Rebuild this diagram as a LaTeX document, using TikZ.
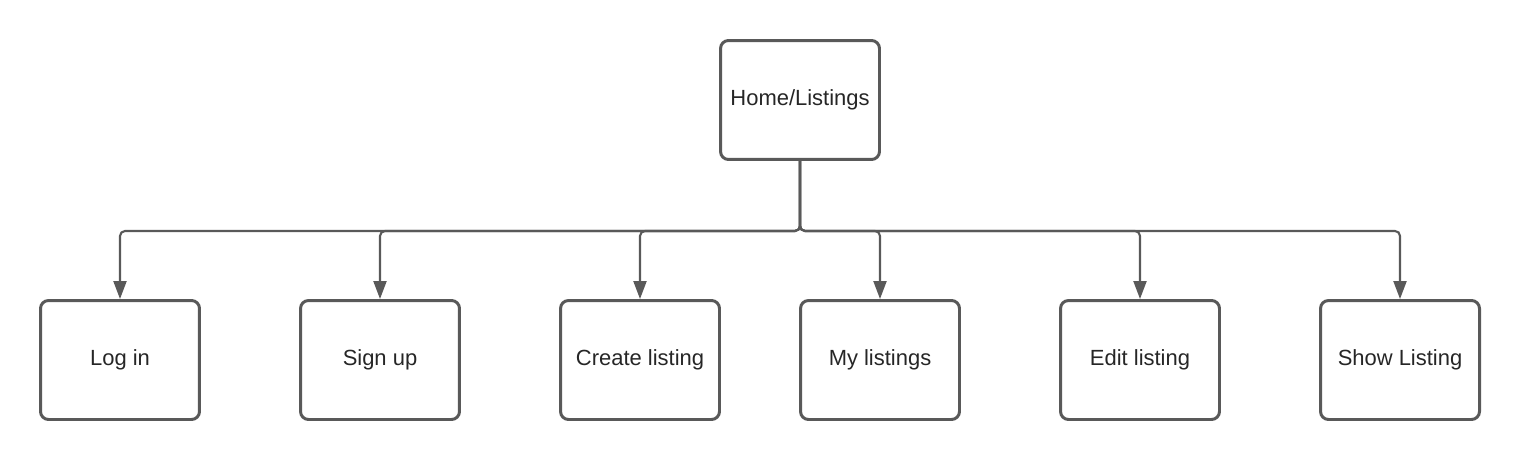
\documentclass[tikz,border=0pt]{standalone}
\usepackage{fontspec}
\setmainfont{Liberation Sans}
\usetikzlibrary{arrows.meta}
\definecolor{linegray}{HTML}{595959}

\begin{document}
\begin{tikzpicture}[x=0.02cm,y=-0.02cm,
    page/.style={draw=linegray, line width=1.7pt, rounded corners=0.16cm, minimum width=3.18cm, minimum height=2.38cm, font=\fontsize{12.5}{15}\selectfont, text=black!85},
    link/.style={draw=linegray, line width=1.2pt, rounded corners=0.1cm, -{Triangle[length=0.36cm,width=0.26cm]}}]
    \useasboundingbox (0,0) rectangle (1520,460);
    \node[page] (home) at (800,100) {Home/Listings};
    \node[page] (login) at (120,360) {Log in};
    \node[page] (signup) at (380,360) {Sign up};
    \node[page] (create) at (640,360) {Create listing};
    \node[page] (mine) at (880,360) {My listings};
    \node[page] (edit) at (1140,360) {Edit listing};
    \node[page] (show) at (1400,360) {Show Listing};
    \foreach \target in {login,signup,create,mine,edit,show}
        \draw[link] (home.south) -- ++(0,70) -| (\target.north);
\end{tikzpicture}
\end{document}
